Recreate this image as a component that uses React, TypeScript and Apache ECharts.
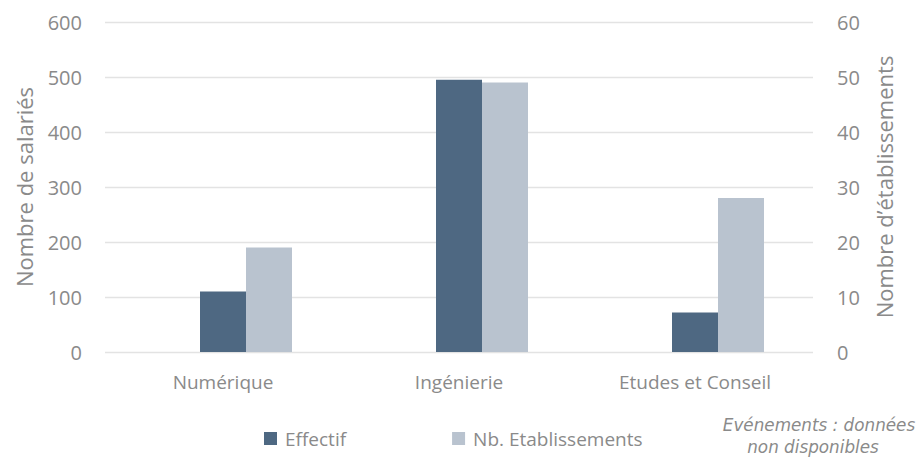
import React, { useEffect, useRef } from "react";
import * as echarts from "echarts";

const categories = ["Numérique", "Ingénierie", "Etudes et Conseil"];
const effectif = [110, 495, 72];
const etablissements = [19, 49, 28];
const evenements: (number | null)[] = [null, null, null];
const leftTicks = { min: 0, max: 600, interval: 100 };
const rightTicks = { min: 0, max: 60, interval: 10 };

const FONT = "'Open Sans', sans-serif";
const GREY = "#8a8a8a";

export default function App() {
  const ref = useRef<HTMLDivElement>(null);
  useEffect(() => {
    document.body.style.margin = "0";
    if (!ref.current) return;
    const chart = echarts.init(ref.current, null, { renderer: "svg" });
    chart.setOption({
      animation: false,
      textStyle: { fontFamily: FONT },
      grid: { left: 105, right: 108, top: 22, bottom: 110 },
      legend: {
        data: ["Effectif", "Nb. Etablissements"],
        left: 259,
        top: 424,
        itemWidth: 13,
        itemHeight: 13,
        itemGap: 106,
        icon: "rect",
        textStyle: { color: GREY, fontSize: 19, fontFamily: FONT, padding: [0, 0, 0, 3] },
      },
      xAxis: {
        type: "category",
        data: categories,
        axisLine: { show: false },
        axisTick: { show: false },
        axisLabel: { color: GREY, fontSize: 19, margin: 20 },
      },
      yAxis: [
        {
          type: "value",
          ...leftTicks,
          name: "Nombre de salariés",
          nameLocation: "middle",
          nameGap: 70,
          nameTextStyle: { color: GREY, fontSize: 22 },
          axisLabel: { color: GREY, fontSize: 20, margin: 23 },
          splitLine: { lineStyle: { color: "#e3e3e3", width: 1.3 } },
          axisLine: { show: false },
          axisTick: { show: false },
        },
        {
          type: "value",
          ...rightTicks,
          name: "Nombre d’établissements",
          nameLocation: "middle",
          nameGap: 60,
          nameTextStyle: { color: GREY, fontSize: 22 },
          axisLabel: { color: GREY, fontSize: 20, margin: 24 },
          splitLine: { show: false },
          axisLine: { show: false },
          axisTick: { show: false },
        },
      ],
      series: [
        {
          name: "Evénements",
          type: "bar",
          yAxisIndex: 0,
          data: evenements,
          barWidth: 46,
          barGap: "0%",
        },
        {
          name: "Effectif",
          type: "bar",
          yAxisIndex: 0,
          data: effectif,
          barWidth: 46,
          barGap: "0%",
          itemStyle: { color: "#4e6882" },
        },
        {
          name: "Nb. Etablissements",
          type: "bar",
          yAxisIndex: 1,
          data: etablissements,
          barWidth: 46,
          barGap: "0%",
          itemStyle: { color: "#b9c3cf" },
        },
      ],
      graphic: [
        {
          type: "text",
          x: 819,
          y: 425,
          style: {
            text: "Evénements : données",
            fill: GREY,
            align: "center",
            verticalAlign: "middle",
            font: "oblique 16.8px 'DejaVu Sans', sans-serif",
          },
        },
        {
          type: "text",
          x: 813,
          y: 447,
          style: {
            text: "non disponibles",
            fill: GREY,
            align: "center",
            verticalAlign: "middle",
            font: "oblique 16.8px 'DejaVu Sans', sans-serif",
          },
        },
      ],
    });
    return () => chart.dispose();
  }, []);
  return <div ref={ref} style={{ width: 921, height: 462 }} />;
}
